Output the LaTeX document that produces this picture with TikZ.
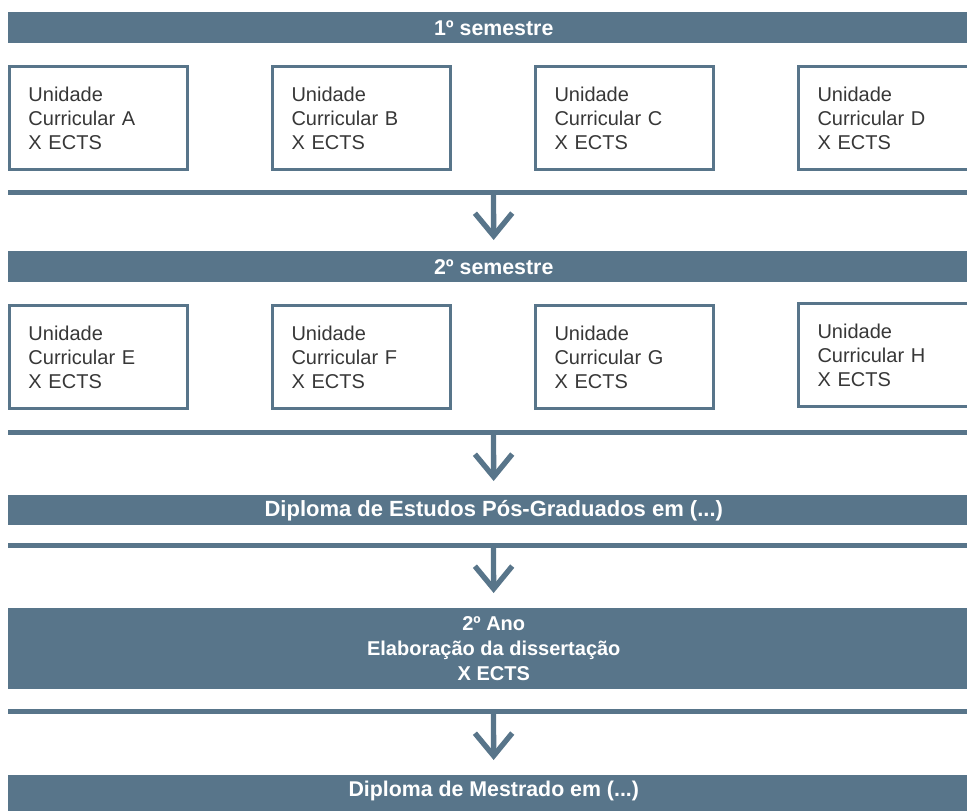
\documentclass[tikz,border=0pt]{standalone}
\usepackage{fontspec}
\setmainfont{Liberation Sans}
\usepackage{xcolor}
\usetikzlibrary{arrows.meta,positioning}

\definecolor{slate}{RGB}{88,117,138}
\definecolor{ink}{RGB}{55,55,55}

\begin{document}
\begin{tikzpicture}[
    x=0.75pt, y=-0.75pt,
    node distance=61.5pt,
    band/.style={rectangle, fill=slate, text=white, font=\fontsize{16}{18}\selectfont\bfseries,
        minimum width=728.25pt, minimum height=23.25pt, inner sep=0pt, align=center, anchor=north west},
    unit/.style={rectangle, draw=slate, line width=2.25pt, text=ink, font=\fontsize{15}{18}\selectfont,
        text width=105pt, inner xsep=14.25pt, minimum height=77.5pt, align=left},
    bar/.style={rectangle, fill=slate, minimum width=728.25pt, minimum height=3.75pt, inner sep=0pt, outer sep=0pt, anchor=west},
    flow/.style={draw=slate, line width=4pt, -{Straight Barb[length=17pt,width=28pt,line width=4pt]}}
]
\useasboundingbox (0,0) rectangle (967,811);
\clip (0,0) rectangle (967,811);

% first semester
\node[band] (band1) at (8,12) {1º semestre};
\node[unit, anchor=north west] (uA) at (8,65) {Unidade\\Curricular A\\X ECTS};
\node[unit, right=of uA] (uB) {Unidade\\Curricular B\\X ECTS};
\node[unit, right=of uB] (uC) {Unidade\\Curricular C\\X ECTS};
\node[unit, right=of uC] (uD) {Unidade\\Curricular D\\X ECTS};
\node[bar] (bar1) at (8,192.5) {};

% second semester
\node[band] (band2) at (8,251) {2º semestre};
\node[unit, anchor=north west] (uE) at (8,304) {Unidade\\Curricular E\\X ECTS};
\node[unit, right=of uE] (uF) {Unidade\\Curricular F\\X ECTS};
\node[unit, right=of uF] (uG) {Unidade\\Curricular G\\X ECTS};
\node[unit, right=of uG, yshift=1.5pt] (uH) {Unidade\\Curricular H\\X ECTS};
\node[bar] (bar2) at (8,432.5) {};

% diplomas
\node[band, minimum height=22.5pt, font=\fontsize{16.5}{18}\selectfont\bfseries] (band3) at (8,495) {Diploma de Estudos Pós-Graduados em (...)};
\node[bar] (bar3) at (8,545) {};
\node[band, minimum height=60.75pt, font=\fontsize{15}{18.5}\selectfont\bfseries] (band4) at (8,608) {2º Ano\\Elaboração da dissertação\\X ECTS};
\node[bar] (bar4) at (8,711.5) {};
\node[band, minimum height=27pt, text depth=7pt] (band5) at (8,775) {Diploma de Mestrado em (...)};

\draw[flow, shorten >=8.25pt] (bar1) -- (band2);
\draw[flow, shorten >=10.5pt] (bar2) -- (band3);
\draw[flow, shorten >=11.25pt] (bar3) -- (band4);
\draw[flow, shorten >=11.25pt] (bar4) -- (band5);
\end{tikzpicture}
\end{document}
